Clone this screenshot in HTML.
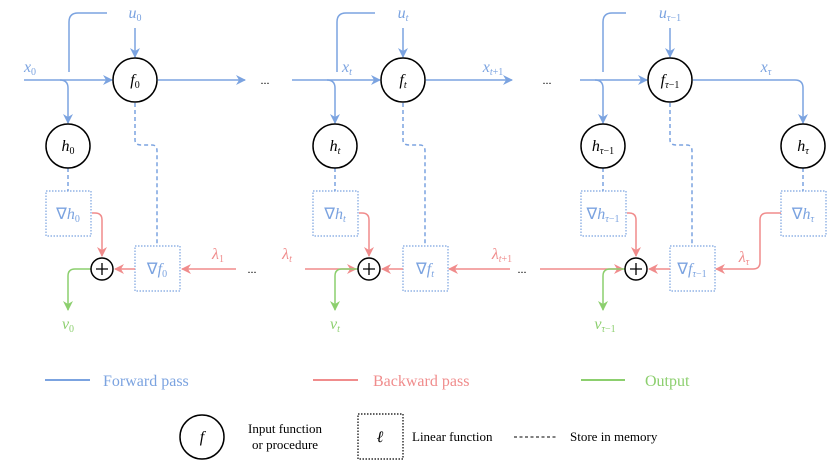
<!DOCTYPE html>
<html><head><meta charset="utf-8"><style>
html,body{margin:0;padding:0;background:#fff}
svg{display:block}
text{font-family:"Liberation Serif",serif}
.m{font-style:italic}
</style></head><body>
<svg width="830" height="463" viewBox="0 0 830 463" xmlns="http://www.w3.org/2000/svg">
<defs>
<marker id="ab" markerWidth="10" markerHeight="10" refX="9" refY="5" orient="auto" markerUnits="userSpaceOnUse"><path d="M0,0 L10,5 L0,10 L3,5 Z" fill="#7ba3e0"/></marker>
<marker id="ar" markerWidth="10" markerHeight="10" refX="9" refY="5" orient="auto" markerUnits="userSpaceOnUse"><path d="M0,0 L10,5 L0,10 L3,5 Z" fill="#f08c8c"/></marker>
<marker id="ag" markerWidth="10" markerHeight="10" refX="9" refY="5" orient="auto" markerUnits="userSpaceOnUse"><path d="M0,0 L10,5 L0,10 L3,5 Z" fill="#8ccf6e"/></marker>
</defs>
<g fill="none" stroke-width="1.5">
<g stroke="#7ba3e0">
<path d="M24,80 H112" marker-end="url(#ab)"/>
<path d="M60,80 Q68,80 68,88 V123" marker-end="url(#ab)"/>
<path d="M69,72 V22 Q69,13 78,13 H107"/>
<path d="M135,28 V57" marker-end="url(#ab)"/>
<path d="M158,80 H245" marker-end="url(#ab)"/>
<path d="M292,80 H380" marker-end="url(#ab)"/>
<path d="M327,80 Q335,80 335,88 V123" marker-end="url(#ab)"/>
<path d="M337,72 V22 Q337,13 346,13 H375"/>
<path d="M403,28 V57" marker-end="url(#ab)"/>
<path d="M426,80 H512" marker-end="url(#ab)"/>
<path d="M580,80 H647" marker-end="url(#ab)"/>
<path d="M595,80 Q603,80 603,88 V123" marker-end="url(#ab)"/>
<path d="M603,72 V22 Q603,13 612,13 H626"/>
<path d="M670,28 V57" marker-end="url(#ab)"/>
<path d="M693,80 H795 Q803,80 803,88 V123" marker-end="url(#ab)"/>
</g>
<g stroke="#7ba3e0" stroke-dasharray="4,3">
<path d="M68,168 V191"/>
<path d="M135,103 V140 Q135,145 141,145 H152 Q157,145 157,151 V246"/>
<path d="M335,168 V191"/>
<path d="M403,103 V140 Q403,145 409,145 H420 Q425,145 425,151 V246"/>
<path d="M603,168 V191"/>
<path d="M670,103 V140 Q670,145 676,145 H687 Q692,145 692,151 V246"/>
<path d="M803,168 V191"/>
</g>
<g stroke="#7ba3e0" stroke-dasharray="1.5,1.5" stroke-width="1.2">
<rect x="46" y="191" width="45" height="45"/>
<rect x="135" y="246" width="45" height="45"/>
<rect x="313" y="191" width="45" height="45"/>
<rect x="403" y="246" width="45" height="45"/>
<rect x="581" y="191" width="45" height="45"/>
<rect x="670" y="246" width="45" height="45"/>
<rect x="781" y="191" width="45" height="45"/>
</g>
<g stroke="#f08c8c">
<path d="M92,213 H95 Q102,213 102,220 V256" marker-end="url(#ar)"/>
<path d="M135,269 H115" marker-end="url(#ar)"/>
<path d="M236,269 H182" marker-end="url(#ar)"/>
<path d="M359,213 H362 Q369,213 369,220 V256" marker-end="url(#ar)"/>
<path d="M403,269 H382" marker-end="url(#ar)"/>
<path d="M305,269 H356" marker-end="url(#ar)"/>
<path d="M510,269 H449" marker-end="url(#ar)"/>
<path d="M627,213 H629 Q636,213 636,220 V256" marker-end="url(#ar)"/>
<path d="M670,269 H649" marker-end="url(#ar)"/>
<path d="M540,269 H623" marker-end="url(#ar)"/>
<path d="M781,213 H767 Q760,213 760,220 V262 Q760,269 753,269 H716" marker-end="url(#ar)"/>
</g>
<g stroke="#8ccf6e">
<path d="M91,269 H75 Q68,269 68,276 V310" marker-end="url(#ag)"/>
<path d="M358,269 H342 Q335,269 335,276 V310" marker-end="url(#ag)"/>
<path d="M625,269 H610 Q603,269 603,276 V310" marker-end="url(#ag)"/>
</g>
<g stroke="#000" fill="#fff">
<circle cx="135" cy="80" r="22"/>
<circle cx="68" cy="146" r="22"/>
<circle cx="403" cy="80" r="22"/>
<circle cx="335" cy="146" r="22"/>
<circle cx="670" cy="80" r="22"/>
<circle cx="603" cy="146" r="22"/>
<circle cx="803" cy="146" r="22"/>
<circle cx="102" cy="269" r="11"/>
<circle cx="369" cy="269" r="11"/>
<circle cx="636" cy="269" r="11"/>
</g>
<g stroke="#000" stroke-width="1.3">
<path d="M96,269 H108 M102,263 V275"/>
<path d="M363,269 H375 M369,263 V275"/>
<path d="M630,269 H642 M636,263 V275"/>
</g>
<path d="M45,380 H90" stroke="#7ba3e0" stroke-width="2"/>
<path d="M313,380 H358" stroke="#f08c8c" stroke-width="2"/>
<path d="M581,380 H625" stroke="#8ccf6e" stroke-width="2"/>
<circle cx="202" cy="437" r="22" stroke="#000"/>
<rect x="358" y="414" width="45" height="45" stroke="#000" stroke-width="1.2" stroke-dasharray="1.5,1.5"/>
<path d="M514,437 H558" stroke="#000" stroke-width="1" stroke-dasharray="3,2.5"/>
</g>
<g font-size="16" text-anchor="middle">
<text x="135" y="85" class="m">f<tspan font-size="10" dy="3" font-style="normal">0</tspan></text>
<text x="68" y="151" class="m">h<tspan font-size="10" dy="3" font-style="normal">0</tspan></text>
<text x="403" y="85" class="m">f<tspan font-size="10" dy="3">t</tspan></text>
<text x="335" y="151" class="m">h<tspan font-size="10" dy="3">t</tspan></text>
<text x="670" y="85" class="m">f<tspan font-size="10" dy="3">τ<tspan font-style="normal">−1</tspan></tspan></text>
<text x="603" y="151" class="m">h<tspan font-size="10" dy="3">τ<tspan font-style="normal">−1</tspan></tspan></text>
<text x="803" y="151" class="m">h<tspan font-size="10" dy="3">τ</tspan></text>
</g>
<g font-size="16" text-anchor="middle" fill="#7ba3e0">
<text x="30" y="72" class="m">x<tspan font-size="10" dy="3" font-style="normal">0</tspan></text>
<text x="135" y="18" class="m">u<tspan font-size="10" dy="3" font-style="normal">0</tspan></text>
<text x="347" y="72" class="m">x<tspan font-size="10" dy="3">t</tspan></text>
<text x="403" y="18" class="m">u<tspan font-size="10" dy="3">t</tspan></text>
<text x="493" y="72" class="m">x<tspan font-size="10" dy="3">t<tspan font-style="normal">+1</tspan></tspan></text>
<text x="670" y="18" class="m">u<tspan font-size="10" dy="3">τ<tspan font-style="normal">−1</tspan></tspan></text>
<text x="766" y="72" class="m">x<tspan font-size="10" dy="3">τ</tspan></text>
<text x="68" y="219">∇<tspan class="m">h</tspan><tspan font-size="10" dy="3">0</tspan></text>
<text x="157" y="274">∇<tspan class="m">f</tspan><tspan font-size="10" dy="3">0</tspan></text>
<text x="335" y="219">∇<tspan class="m">h</tspan><tspan font-size="10" dy="3" class="m">t</tspan></text>
<text x="425" y="274">∇<tspan class="m">f</tspan><tspan font-size="10" dy="3" class="m">t</tspan></text>
<text x="603" y="219">∇<tspan class="m">h</tspan><tspan font-size="10" dy="3"><tspan class="m">τ</tspan>−1</tspan></text>
<text x="692" y="274">∇<tspan class="m">f</tspan><tspan font-size="10" dy="3"><tspan class="m">τ</tspan>−1</tspan></text>
<text x="803" y="219">∇<tspan class="m">h</tspan><tspan font-size="10" dy="3" class="m">τ</tspan></text>
</g>
<g font-size="16" text-anchor="middle" fill="#f08c8c">
<text x="218" y="259" class="m">λ<tspan font-size="10" dy="3" font-style="normal">1</tspan></text>
<text x="287" y="259" class="m">λ<tspan font-size="10" dy="3">t</tspan></text>
<text x="502" y="259" class="m">λ<tspan font-size="10" dy="3">t<tspan font-style="normal">+1</tspan></tspan></text>
<text x="744" y="262" class="m">λ<tspan font-size="10" dy="3">τ</tspan></text>
</g>
<g font-size="16" text-anchor="middle" fill="#8ccf6e">
<text x="68" y="329" class="m">v<tspan font-size="10" dy="3" font-style="normal">0</tspan></text>
<text x="335" y="329" class="m">v<tspan font-size="10" dy="3">t</tspan></text>
<text x="605" y="329" class="m">v<tspan font-size="10" dy="3">τ<tspan font-style="normal">−1</tspan></tspan></text>
</g>
<g font-size="12" fill="#000" text-anchor="middle">
<text x="265" y="84">...</text>
<text x="547" y="84">...</text>
<text x="252" y="273">...</text>
<text x="522" y="273">...</text>
</g>
<g font-size="16">
<text x="103" y="386" fill="#7ba3e0">Forward pass</text>
<text x="373" y="386" fill="#f08c8c">Backward pass</text>
<text x="645" y="386" fill="#8ccf6e">Output</text>
</g>
<g font-size="13" fill="#000">
<text x="202" y="442" text-anchor="middle" class="m" font-size="16">f</text>
<text x="248" y="433">Input function</text>
<text x="252" y="449">or procedure</text>
<text x="380" y="442" text-anchor="middle" class="m" font-size="16">ℓ</text>
<text x="412" y="441">Linear function</text>
<text x="570" y="441">Store in memory</text>
</g>
</svg>
</body></html>
